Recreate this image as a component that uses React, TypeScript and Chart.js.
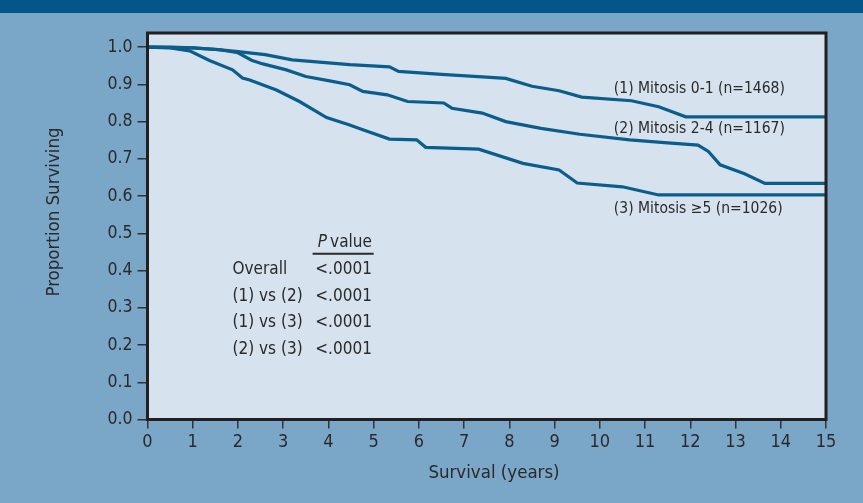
import { useEffect, useRef } from "react";
import { Chart, registerables } from "chart.js";

Chart.register(...registerables);

// ---- Data ----
const yearsMitosis01 = [0, 0.5, 1.0, 1.5, 2.0, 2.6, 3.2, 3.6, 4.47, 5.35, 5.55, 6.5, 7.4, 7.92, 8.5, 9.1, 9.6, 10.7, 11.3, 11.9, 15];
const survMitosis01 = [1.0, 1.0, 0.998, 0.994, 0.988, 0.98, 0.966, 0.962, 0.953, 0.947, 0.935, 0.927, 0.92, 0.916, 0.895, 0.883, 0.866, 0.856, 0.84, 0.813, 0.813];

const yearsMitosis24 = [0, 1.0, 1.6, 2.0, 2.3, 2.55, 3.07, 3.5, 4.0, 4.47, 4.76, 5.3, 5.75, 6.55, 6.73, 7.4, 7.92, 8.7, 9.56, 10.66, 11.5, 12.17, 12.4, 12.66, 13.2, 13.65, 15];
const survMitosis24 = [1.0, 0.998, 0.993, 0.985, 0.965, 0.955, 0.939, 0.921, 0.91, 0.899, 0.881, 0.872, 0.854, 0.85, 0.836, 0.823, 0.8, 0.782, 0.766, 0.751, 0.743, 0.737, 0.72, 0.684, 0.66, 0.634, 0.634];

const yearsMitosis5 = [0, 0.5, 0.93, 1.37, 1.88, 2.1, 2.26, 2.85, 3.36, 3.96, 4.47, 4.76, 5.35, 5.95, 6.15, 7.32, 8.3, 9.1, 9.5, 10.5, 11.3, 15];
const survMitosis5 = [1.0, 0.998, 0.99, 0.964, 0.939, 0.917, 0.912, 0.885, 0.854, 0.811, 0.791, 0.778, 0.753, 0.751, 0.731, 0.726, 0.688, 0.67, 0.635, 0.625, 0.603, 0.603];

const seriesLabels = ["(1) Mitosis 0-1 (n=1468)", "(2) Mitosis 2-4 (n=1167)", "(3) Mitosis \u22655 (n=1026)"];
const yTickValues = [0, 0.1, 0.2, 0.3, 0.4, 0.5, 0.6, 0.7, 0.8, 0.9, 1.0];
const pRowLabels = ["Overall", "(1) vs (2)", "(1) vs (3)", "(2) vs (3)"];
const pRowValues = ["<.0001", "<.0001", "<.0001", "<.0001"];

const FONT = '"DejaVu Sans Condensed", "Liberation Sans Narrow", sans-serif';
const TEXT = "#2a2a2a";
const LINE = "#0b5e8b";

const toPts = (xs: number[], ys: number[]) => xs.map((x, i) => ({ x, y: ys[i] }));

const decorPlugin = {
  id: "decor",
  beforeDraw(chart: any) {
    const { ctx, chartArea: a } = chart;
    ctx.save();
    ctx.fillStyle = "#d6e2ee";
    ctx.fillRect(a.left, a.top, a.right - a.left, a.bottom - a.top);
    ctx.restore();
  },
  afterDraw(chart: any) {
    const { ctx, chartArea: a, scales } = chart;
    const xs = scales.x;
    const ys = scales.y;
    ctx.save();
    // frame
    ctx.strokeStyle = "#231f20";
    ctx.lineWidth = 3;
    ctx.strokeRect(a.left, a.top, a.right - a.left, a.bottom - a.top);

    ctx.fillStyle = TEXT;
    ctx.textBaseline = "middle";
    // series labels
    ctx.font = `15.5px ${FONT}`;
    ctx.textAlign = "left";
    const labelPos = [
      [10.31, 0.888],
      [10.31, 0.78],
      [10.31, 0.565],
    ];
    seriesLabels.forEach((t, i) => {
      ctx.fillText(t, xs.getPixelForValue(labelPos[i][0]), ys.getPixelForValue(labelPos[i][1]));
    });

    // P value table
    ctx.font = `17px ${FONT}`;
    ctx.textAlign = "right";
    const rightX = xs.getPixelForValue(4.96);
    const headY = ys.getPixelForValue(0.474);
    const valueW = ctx.measureText("value").width;
    ctx.fillText("value", rightX, headY);
    ctx.font = `italic 17px ${FONT}`;
    ctx.fillText("P", rightX - valueW - 3, headY);
    ctx.strokeStyle = "#2a2a2a";
    ctx.lineWidth = 2;
    ctx.beginPath();
    const ulY = ys.getPixelForValue(0.445);
    ctx.moveTo(xs.getPixelForValue(3.65), ulY);
    ctx.lineTo(xs.getPixelForValue(5.0), ulY);
    ctx.stroke();
    ctx.font = `17px ${FONT}`;
    const rowVals = [0.402, 0.33, 0.259, 0.188];
    pRowLabels.forEach((t, i) => {
      const y = ys.getPixelForValue(rowVals[i]);
      ctx.textAlign = "left";
      ctx.fillText(t, xs.getPixelForValue(1.88), y);
      ctx.textAlign = "right";
      ctx.fillText(pRowValues[i], rightX, y);
    });

    // axis titles
    ctx.font = `18.5px ${FONT}`;
    ctx.textAlign = "center";
    ctx.fillText("Survival (years)", 494, 473);
    ctx.translate(54, 212);
    ctx.rotate(-Math.PI / 2);
    ctx.fillText("Proportion Surviving", 0, 0);
    ctx.restore();
  },
};

export default function App() {
  const ref = useRef<HTMLCanvasElement | null>(null);
  useEffect(() => {
    if (!ref.current) return;
    const common = { borderColor: LINE, borderWidth: 3.2, pointRadius: 0, fill: false, tension: 0 };
    const chart = new Chart(ref.current, {
      type: "line",
      data: {
        datasets: [
          { label: seriesLabels[0], data: toPts(yearsMitosis01, survMitosis01), ...common },
          { label: seriesLabels[1], data: toPts(yearsMitosis24, survMitosis24), ...common },
          { label: seriesLabels[2], data: toPts(yearsMitosis5, survMitosis5), ...common },
        ],
      },
      options: {
        animation: false,
        responsive: false,
        devicePixelRatio: 1,
        layout: { padding: { left: 0, right: 37, top: 33, bottom: 0 } },
        plugins: { legend: { display: false }, tooltip: { enabled: false } },
        scales: {
          x: {
            type: "linear",
            min: 0,
            max: 15,
            ticks: { stepSize: 1, color: TEXT, font: { family: FONT, size: 18 }, padding: 3, maxRotation: 0 },
            grid: { drawOnChartArea: false, drawTicks: true, tickLength: 9, color: "#333", lineWidth: 1.5 },
            border: { display: false },
            afterFit: (s: any) => {
              s.height = 83.5;
            },
          },
          y: {
            type: "linear",
            min: 0,
            max: 1.038,
            afterBuildTicks: (s: any) => {
              s.ticks = yTickValues.map((v) => ({ value: v }));
            },
            ticks: {
              color: TEXT,
              font: { family: FONT, size: 17.5 },
              padding: 5,
              callback: (v: any) => Number(v).toFixed(1),
            },
            grid: { drawOnChartArea: false, drawTicks: true, tickLength: 10, color: "#333", lineWidth: 1.5 },
            border: { display: false },
            afterFit: (s: any) => {
              s.width = 147.5;
            },
          },
        },
      },
      plugins: [decorPlugin],
    });
    return () => chart.destroy();
  }, []);
  return (
    <div style={{ position: "fixed", left: 0, top: 0, width: 863, height: 503, background: "#7aa6c7" }}>
      <div style={{ position: "absolute", left: 0, top: 0, width: 863, height: 13, background: "#03558a" }} />
      <canvas ref={ref} width={863} height={503} style={{ position: "absolute", left: 0, top: 0 }} />
    </div>
  );
}
